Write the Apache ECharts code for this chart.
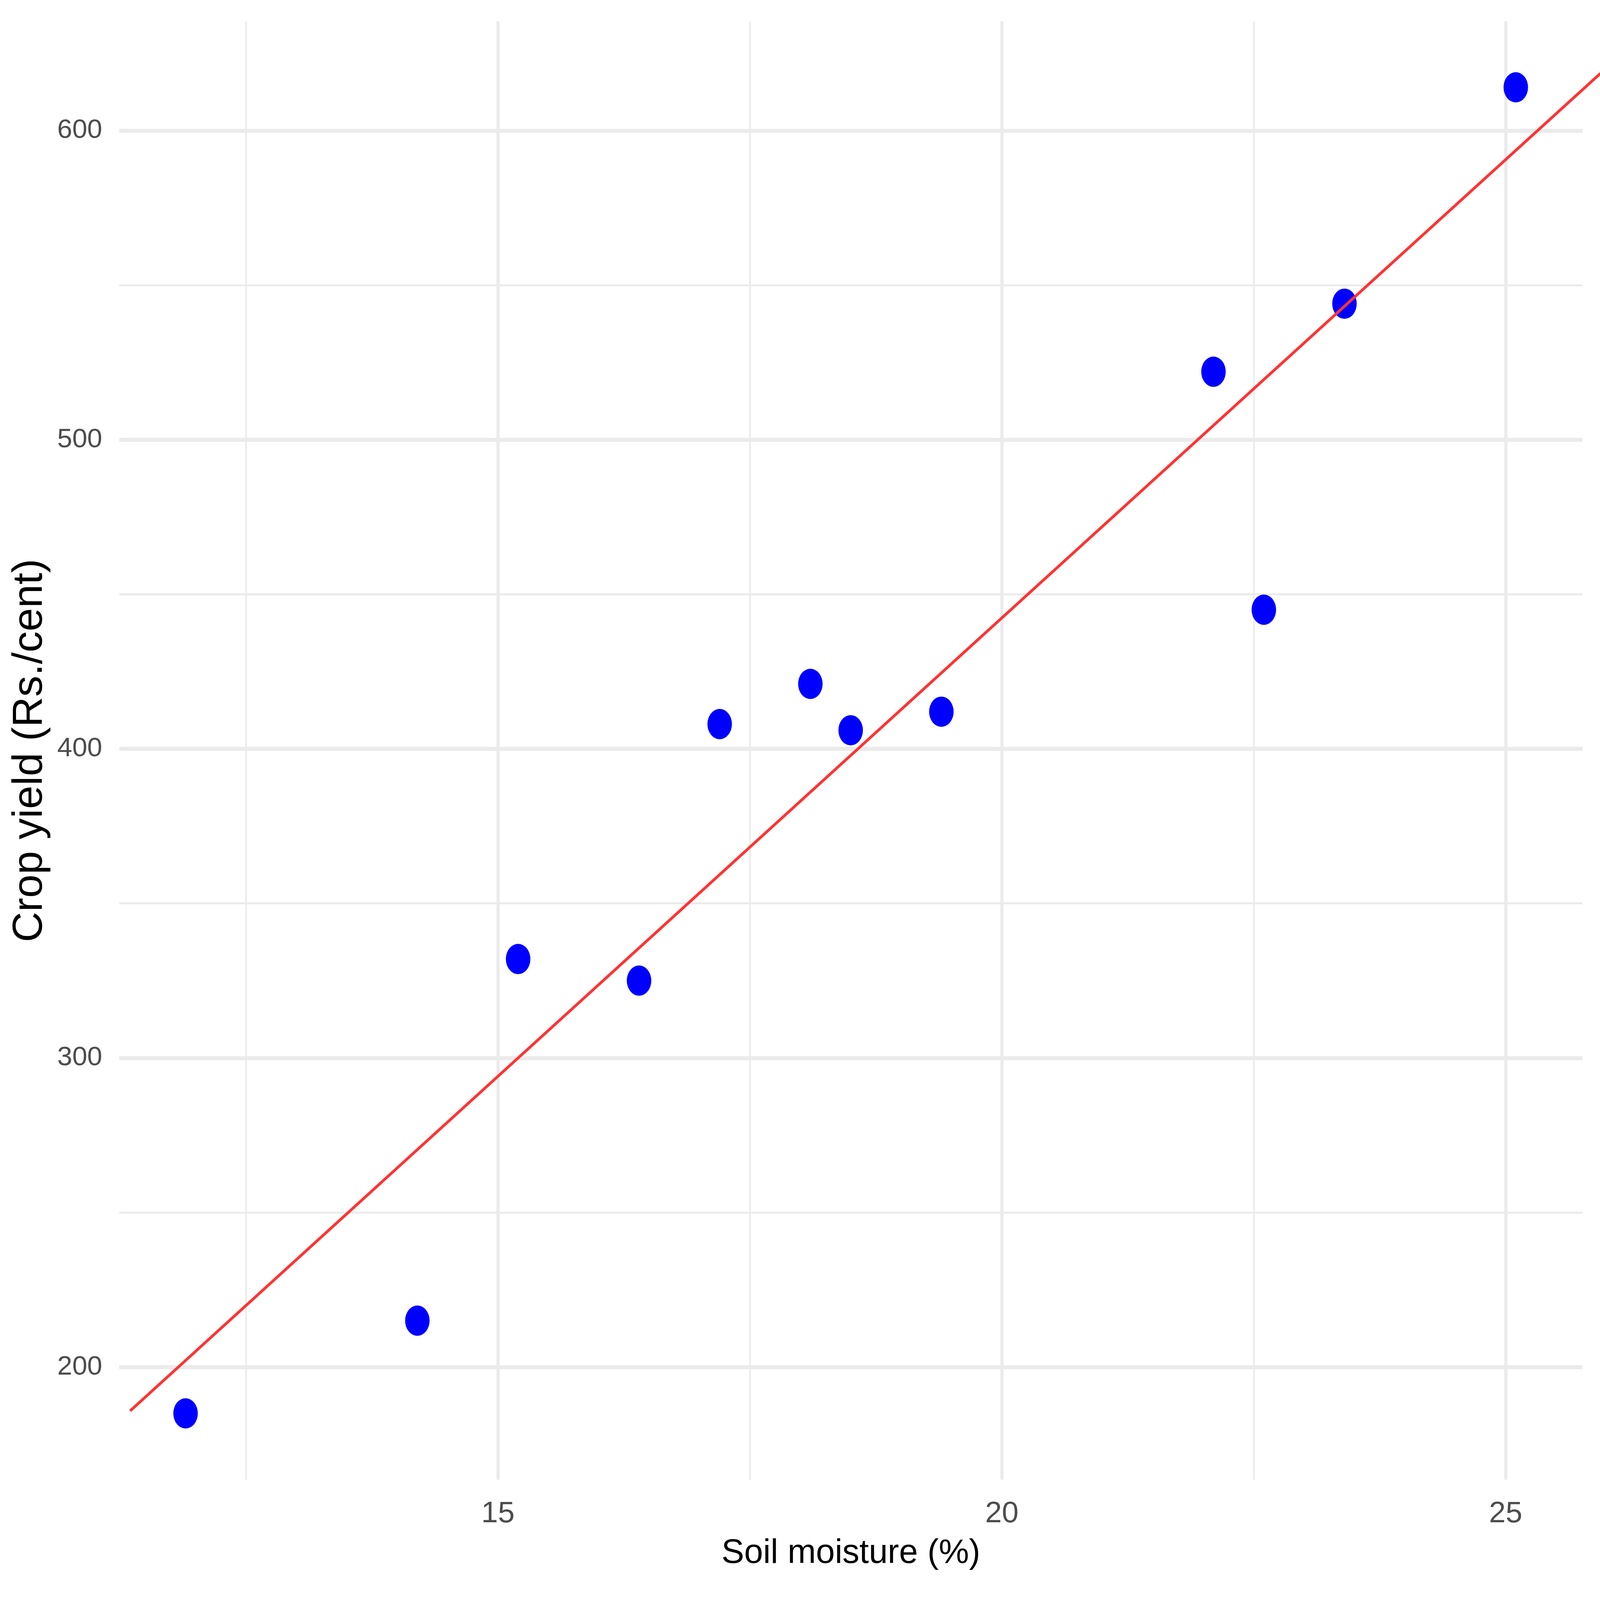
<!DOCTYPE html>
<html>
<head>
<meta charset="utf-8">
<script src="https://cdn.jsdelivr.net/npm/echarts@6/dist/echarts.min.js"></script>
<style>
html,body{margin:0;padding:0;background:#fff;overflow:hidden;}
#chart{position:absolute;left:0;top:0;}
</style>
</head>
<body>
<div id="chart"></div>
<script>
const soilMoisture = [11.9, 14.2, 15.2, 16.4, 17.2, 18.1, 18.5, 19.4, 22.1, 22.6, 23.4, 25.1];
const cropYield = [185, 215, 332, 325, 408, 421, 406, 412, 522, 445, 544, 614];
const fitLineX = [11.35, 25.94];
const fitLineY = [185.8, 618.5];
const xMajorTicks = [15, 20, 25];
const xMinorTicks = [12.5, 17.5, 22.5];
const yMajorTicks = [200, 300, 400, 500, 600];
const yMinorTicks = [250, 350, 450, 550];

const X_MIN = 11.242, X_MAX = 25.762;
const Y_MIN = 163.56, Y_MAX = 635.34;
const FONT = '"Liberation Sans", Arial, sans-serif';
const GRID = '#EBEBEB';

// Layout designed for 6400x5172; scaled to the actual window.
const W = window.innerWidth || 6400;
const H = window.innerHeight || 5172;
const sx = W / 6400, sy = H / 5172, sm = Math.sqrt(sx * sy);
const el = document.getElementById('chart');
el.style.width = W + 'px';
el.style.height = H + 'px';

const chart = echarts.init(el, null, {renderer: 'canvas', width: W, height: H});

// panel geometry (reference pixels)
const P_LEFT = 477, P_RIGHT = 6330, P_TOP = 69, P_BOTTOM = 4783;
// overlay grid running to the right image edge (the fitted line is not clipped at the panel)
const X_MAX_EXT = X_MIN + (X_MAX - X_MIN) * (6400 - P_LEFT) / (P_RIGHT - P_LEFT);

function axisBase(min, max, gridIndex) {
  return {
    type: 'value', min: min, max: max, gridIndex: gridIndex || 0,
    axisLine: {show: false},
    axisTick: {show: false},
    minorTick: {show: false},
    minorSplitLine: {show: false}
  };
}

const xMinorAxis = Object.assign(axisBase(X_MIN, X_MAX), {
  position: 'bottom',
  axisTick: {show: false, customValues: xMinorTicks},
  axisLabel: {show: false, customValues: xMinorTicks},
  splitLine: {show: true, lineStyle: {color: GRID, width: 6.5 * sx}}
});
const xMajorAxis = Object.assign(axisBase(X_MIN, X_MAX), {
  position: 'bottom',
  name: 'Soil moisture (%)',
  nameLocation: 'middle',
  nameGap: 184 * sy,
  nameTextStyle: {fontFamily: FONT, fontSize: 136 * sx, color: '#000'},
  axisTick: {show: false, customValues: xMajorTicks},
  axisLabel: {show: true, customValues: xMajorTicks, margin: 62 * sy, fontFamily: FONT, fontSize: 108 * sm, color: '#4D4D4D'},
  splitLine: {show: true, lineStyle: {color: GRID, width: 13 * sx}}
});
const xLineAxis = Object.assign(axisBase(X_MIN, X_MAX_EXT, 1), {
  show: false,
  axisLabel: {show: false},
  splitLine: {show: false}
});
const yMinorAxis = Object.assign(axisBase(Y_MIN, Y_MAX), {
  position: 'left',
  axisTick: {show: false, customValues: yMinorTicks},
  axisLabel: {show: false, customValues: yMinorTicks},
  splitLine: {show: true, lineStyle: {color: GRID, width: 6.5 * sy}}
});
const yMajorAxis = Object.assign(axisBase(Y_MIN, Y_MAX), {
  position: 'left',
  name: 'Crop yield (Rs./cent)',
  nameLocation: 'middle',
  nameGap: 272 * sx,
  nameRotate: 90,
  nameTextStyle: {fontFamily: FONT, fontSize: 136 * sy, color: '#000'},
  axisTick: {show: false, customValues: yMajorTicks},
  axisLabel: {show: true, customValues: yMajorTicks, margin: 68 * sx, fontFamily: FONT, fontSize: 108 * sx, color: '#4D4D4D'},
  splitLine: {show: true, lineStyle: {color: GRID, width: 13 * sy}}
});
const yLineAxis = Object.assign(axisBase(Y_MIN, Y_MAX, 1), {
  show: false,
  axisLabel: {show: false},
  splitLine: {show: false}
});

const points = soilMoisture.map((x, i) => [x, cropYield[i]]);
const fitPoints = fitLineX.map((x, i) => [x, fitLineY[i]]);

chart.setOption({
  backgroundColor: '#ffffff',
  animation: false,
  grid: [
    {left: P_LEFT * sx, right: (6400 - P_RIGHT) * sx, top: P_TOP * sy, bottom: (5172 - P_BOTTOM) * sy, containLabel: false},
    {left: P_LEFT * sx, right: 0, top: P_TOP * sy, bottom: (5172 - P_BOTTOM) * sy, containLabel: false}
  ],
  xAxis: [xMinorAxis, xMajorAxis, xLineAxis],
  yAxis: [yMinorAxis, yMajorAxis, yLineAxis],
  series: [
    {
      type: 'scatter',
      xAxisIndex: 1, yAxisIndex: 1,
      data: points,
      symbol: 'circle',
      symbolSize: [98 * sx, 98 * sy],
      itemStyle: {color: '#0000FF', opacity: 1},
      z: 3
    },
    {
      type: 'line',
      xAxisIndex: 2, yAxisIndex: 2,
      data: fitPoints,
      symbol: 'none',
      clip: false,
      lineStyle: {color: '#FF3333', width: 10 * sm},
      z: 4
    }
  ]
});
</script>
</body>
</html>
